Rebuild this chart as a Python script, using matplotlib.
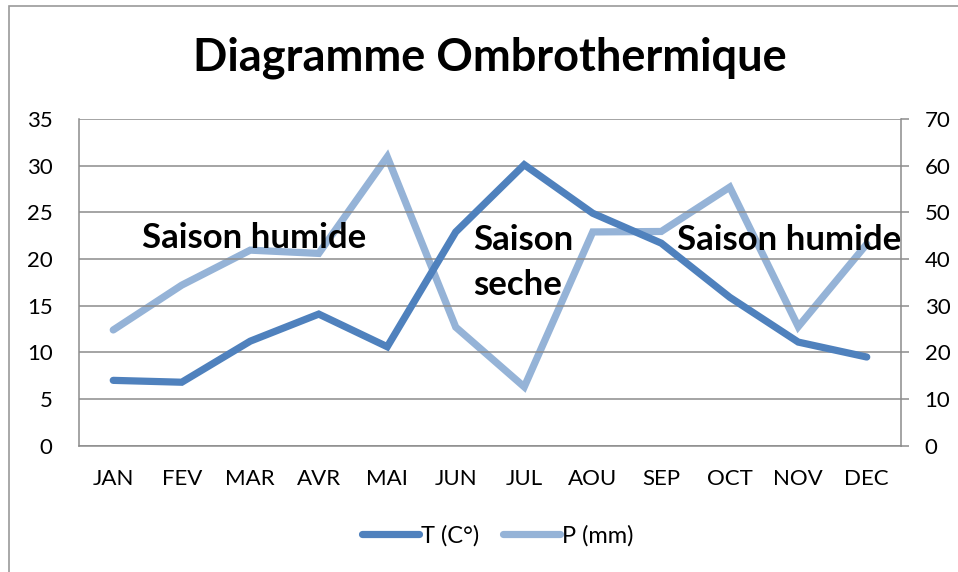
import numpy as np
import matplotlib.pyplot as plt
from matplotlib.patches import Rectangle

months = ["JAN", "FEV", "MAR", "AVR", "MAI", "JUN", "JUL", "AOU", "SEP", "OCT", "NOV", "DEC"]
temp = [7.0, 6.8, 11.2, 14.1, 10.6, 22.9, 30.1, 24.9, 21.7, 15.9, 11.1, 9.5]
precip = [24.8, 34.4, 41.9, 41.2, 61.9, 25.4, 12.6, 45.8, 45.9, 55.4, 25.5, 43.2]

plt.rcParams['font.family'] = ['Lato', 'DejaVu Sans']

fig = plt.figure(figsize=(9.58, 5.72), dpi=100)
fig.patches.append(Rectangle((9 / 958, -0.1), 1.2, 1.1 - 6 / 572, transform=fig.transFigure,
                             fill=False, edgecolor="#9a9a9a", linewidth=1.2))

ax = fig.add_axes([79 / 958, 1 - 445.7 / 572, 822 / 958, 326.7 / 572])
ax2 = ax.twinx()

x = np.arange(len(months))
blue = "#4f81bd"
light = "#95b3d7"

l1, = ax.plot(x, temp, color=blue, lw=5.2, solid_capstyle="round", solid_joinstyle="miter", label="T (C°)", zorder=3)
l2, = ax2.plot(x, precip, color=light, lw=5.2, solid_capstyle="round", solid_joinstyle="miter", label="P (mm)")

ax.set_zorder(ax2.get_zorder() + 1)
ax.patch.set_visible(False)

ax.set_xlim(-0.5, 11.5)
ax.set_ylim(0, 35)
ax.set_yticks(range(0, 36, 5))
ax2.set_ylim(0, 70)
ax2.set_yticks(range(0, 71, 10))
ax.set_xticks(x)
ax.set_xticklabels(months)

grid_c = "#8c8c8c"
ax.grid(axis="y", color=grid_c, lw=1.1)
ax.set_axisbelow(True)
for a in (ax, ax2):
    a.spines["top"].set_visible(False)
    for s in ("left", "right", "bottom"):
        a.spines[s].set_color(grid_c)
        a.spines[s].set_linewidth(1.1)
ax.spines["right"].set_visible(False)
ax2.spines["left"].set_visible(False)
ax2.spines["bottom"].set_visible(False)

ax.tick_params(axis="y", length=0, pad=19, labelsize=16)
ax.tick_params(axis="x", length=0, pad=17, labelsize=16)
ax2.tick_params(axis="y", length=6, width=1.1, color=grid_c, pad=11, labelsize=16)

kw = dict(fontsize=25, fontweight="bold", color="black", zorder=5)
ax.text(2.06, 22.2, "Saison humide", ha="center", va="center", **kw)
ax.text(5.26, 19.6, "Saison\nseche", ha="left", va="center", linespacing=1.5, **kw)
ax.text(9.87, 22.0, "Saison humide", ha="center", va="center", **kw)

fig.text(0.511, 0.899, "Diagramme Ombrothermique", ha="center", va="center",
         fontsize=32.5, fontweight="bold")

fig.legend(handles=[l1, l2], loc="center", bbox_to_anchor=(0.52, 0.063), ncol=2,
           frameon=False, fontsize=17, handlelength=2.4, handletextpad=0.1, columnspacing=1.0)

fig.savefig("out.png", dpi=100)
